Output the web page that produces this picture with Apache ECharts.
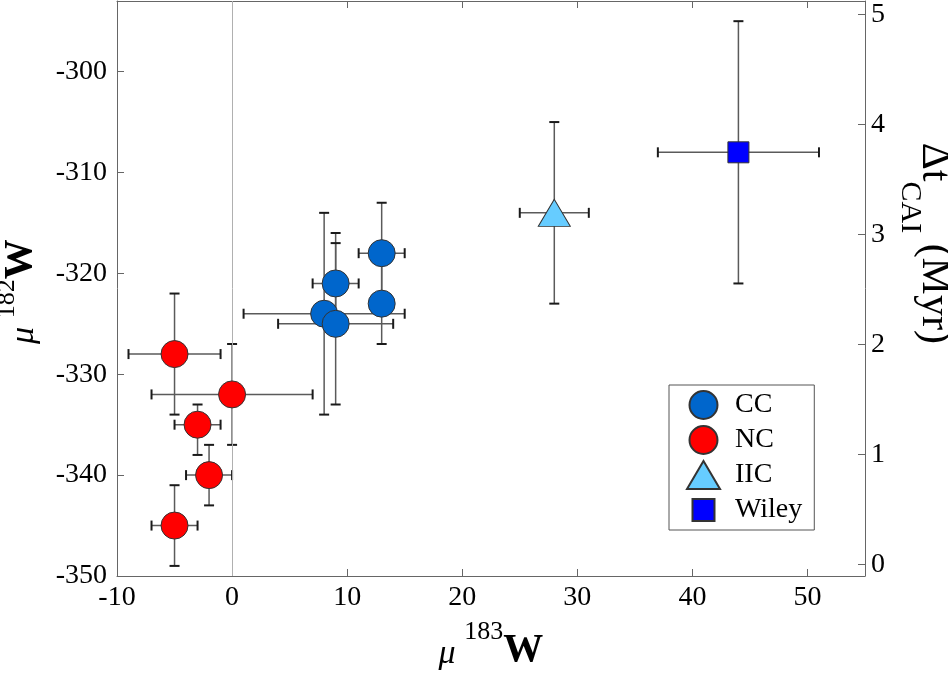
<!DOCTYPE html>
<html><head><meta charset="utf-8">
<script src="https://cdn.jsdelivr.net/npm/echarts@6/dist/echarts.min.js"></script>
<style>html,body{margin:0;padding:0;background:#fff}#c{width:948px;height:673px}</style>
</head><body><div id="c"></div>
<script>
// ---- data ----
// CC group
const ccX    = [8, 9, 9, 13, 13];
const ccY    = [-324, -321, -325, -318, -323];
const ccXLo  = [1, 7, 4, 11, 12];
const ccXHi  = [15, 11, 14, 15, 14];
const ccYLo  = [-334, -326, -333, -323, -327];
const ccYHi  = [-314, -316, -317, -313, -319];
// NC group
const ncX    = [-5, 0, -3, -2, -5];
const ncY    = [-328, -332, -335, -340, -345];
const ncXLo  = [-9, -7, -5, -4, -7];
const ncXHi  = [-1, 7, -1, 0, -3];
const ncYLo  = [-334, -337, -338, -343, -349];
const ncYHi  = [-322, -327, -333, -337, -341];
// IIC
const iicX = [28], iicY = [-314], iicXLo = [25], iicXHi = [31], iicYLo = [-323], iicYHi = [-305];
// Wiley
const wyX = [44], wyY = [-308], wyXLo = [37], wyXHi = [51], wyYLo = [-321], wyYHi = [-295];

const xTicksMin = -10, xTicksMax = 55, xStep = 10;
const yLeftMin = -350, yLeftMax = -293, yLeftStep = 10;
const yRightMin = -0.106, yRightMax = 5.12;
const legendNames = ['CC', 'NC', 'IIC', 'Wiley'];

const FONT = 'Liberation Serif';

function rows(x, y, xlo, xhi, ylo, yhi) {
  return x.map((v, i) => [v, y[i], xlo[i], xhi[i], ylo[i], yhi[i]]);
}
const ccData = rows(ccX, ccY, ccXLo, ccXHi, ccYLo, ccYHi);
const ncData = rows(ncX, ncY, ncXLo, ncXHi, ncYLo, ncYHi);
const iicData = rows(iicX, iicY, iicXLo, iicXHi, iicYLo, iicYHi);
const wyData = rows(wyX, wyY, wyXLo, wyXHi, wyYLo, wyYHi);

function errSeries(id, data) {
  return {
    type: 'custom', id: id, z: 3, silent: true,
    data: data,
    encode: { x: [0, 2, 3], y: [1, 4, 5] },
    renderItem: function (params, api) {
      const x = api.value(0), y = api.value(1);
      const a = api.coord([api.value(2), y]), b = api.coord([api.value(3), y]);
      const c = api.coord([x, api.value(4)]), d = api.coord([x, api.value(5)]);
      const h = 5;
      const ls = { stroke: '#5a5a5a', lineWidth: 1.5 };
      const cs = { stroke: '#1a1a1a', lineWidth: 2 };
      return { type: 'group', children: [
        { type: 'line', shape: { x1: a[0], y1: a[1], x2: b[0], y2: b[1] }, style: ls },
        { type: 'line', shape: { x1: c[0], y1: c[1], x2: d[0], y2: d[1] }, style: ls },
        { type: 'line', shape: { x1: a[0], y1: a[1] - h, x2: a[0], y2: a[1] + h }, style: cs },
        { type: 'line', shape: { x1: b[0], y1: b[1] - h, x2: b[0], y2: b[1] + h }, style: cs },
        { type: 'line', shape: { x1: c[0] - h, y1: c[1], x2: c[0] + h, y2: c[1] }, style: cs },
        { type: 'line', shape: { x1: d[0] - h, y1: d[1], x2: d[0] + h, y2: d[1] }, style: cs }
      ]};
    }
  };
}

function scatter(name, data, symbol, size, color) {
  return {
    type: 'scatter', name: name, z: 5, symbol: symbol, symbolSize: size,
    data: data.map(r => [r[0], r[1]]),
    itemStyle: { color: color, borderColor: '#333', borderWidth: 1, opacity: 1 },
    emphasis: { disabled: true }
  };
}

const axisCol = '#666';
const tickLbl = { fontFamily: FONT, fontSize: 28, color: '#000' };
const squareIcon = 'path://M0,0L0,0M28,28L28,28M3,3L25,3L25,25L3,25Z';

function supRich(L) {
  return {
    mu: { fontFamily: FONT, fontStyle: 'italic', fontSize: 34, lineHeight: 34, verticalAlign: 'bottom', color: '#000' },
    sup: { fontFamily: FONT, fontSize: 26, lineHeight: 26, verticalAlign: 'top', color: '#000' },
    w: { fontFamily: FONT, fontWeight: 'bold', fontSize: 40, lineHeight: 40, verticalAlign: 'bottom', color: '#000' },
    h: { fontSize: 1, lineHeight: L, verticalAlign: 'middle' }
  };
}

const chart = echarts.init(document.getElementById('c'), null, { renderer: 'canvas' });
chart.setOption({
  animation: false,
  backgroundColor: '#fff',
  grid: { left: 117, right: 83, top: 1, bottom: 97, containLabel: false, outerBoundsMode: 'none' },
  xAxis: [{
    type: 'value', position: 'bottom', min: xTicksMin, max: xTicksMax, interval: xStep,
    axisLine: { show: true, onZero: false, lineStyle: { color: axisCol, width: 1 } },
    axisTick: { show: true, inside: true, length: 7, lineStyle: { color: axisCol } },
    axisLabel: Object.assign({ margin: 8, showMaxLabel: false }, tickLbl),
    splitLine: { show: false },
    name: '{mu|μ }{sup|183}{w|W}{h| }', nameLocation: 'middle', nameGap: 43, nameMoveOverlap: false,
    nameTextStyle: { rich: supRich(52) }
  }, {
    type: 'value', position: 'top', min: xTicksMin, max: xTicksMax, interval: xStep,
    axisLine: { show: true, onZero: false, lineStyle: { color: axisCol, width: 1 } },
    axisTick: { show: true, inside: true, length: 7, lineStyle: { color: axisCol } },
    axisLabel: { show: false }, splitLine: { show: false }
  }],
  yAxis: [{
    type: 'value', position: 'left', min: yLeftMin, max: yLeftMax, interval: yLeftStep,
    axisLine: { show: true, onZero: false, lineStyle: { color: axisCol, width: 1 } },
    axisTick: { show: true, inside: true, length: 7, lineStyle: { color: axisCol } },
    axisLabel: Object.assign({ margin: 10, showMaxLabel: false }, tickLbl),
    splitLine: { show: false },
    name: '{mu|μ }{sup|182}{w|W}{h| }', nameLocation: 'middle', nameGap: 76, nameRotate: 90, nameMoveOverlap: false,
    nameTextStyle: { padding: [0, 6, 0, 0], rich: supRich(47) }
  }, {
    type: 'value', position: 'right', min: yRightMin, max: yRightMax, minInterval: 1, maxInterval: 1,
    axisLine: { show: true, onZero: false, lineStyle: { color: axisCol, width: 1 } },
    axisTick: { show: true, inside: true, length: 7, lineStyle: { color: axisCol } },
    axisLabel: Object.assign({ margin: 6, showMinLabel: false, showMaxLabel: false,
      formatter: v => (Math.abs(v - Math.round(v)) < 1e-6 ? String(Math.round(v)) : '') }, tickLbl),
    splitLine: { show: false },
    name: '{d|Δt}{sub|CAI}{m| (Myr)}{h| }', nameLocation: 'middle', nameGap: 30, nameRotate: -90, nameMoveOverlap: false,
    nameTextStyle: {
      padding: [0, 90, 0, 0],
      rich: {
        d: { fontFamily: FONT, fontSize: 42, lineHeight: 42, verticalAlign: 'top', color: '#000' },
        sub: { fontFamily: FONT, fontSize: 30, lineHeight: 30, verticalAlign: 'bottom', color: '#000' },
        m: { fontFamily: FONT, fontSize: 42, lineHeight: 42, verticalAlign: 'top', color: '#000' },
        h: { fontSize: 1, lineHeight: 60, verticalAlign: 'middle' }
      }
    }
  }],
  legend: {
    orient: 'vertical', left: 669, top: 385,
    data: [
      { name: 'CC', icon: 'circle' },
      { name: 'NC', icon: 'circle' },
      { name: 'IIC', icon: 'triangle' },
      { name: 'Wiley', icon: squareIcon }
    ],
    itemWidth: 33, itemHeight: 28, itemGap: 5,
    padding: [5, 12, 5, 17],
    borderColor: '#555', borderWidth: 1, backgroundColor: '#fff',
    textStyle: { fontFamily: FONT, fontSize: 28, color: '#000', padding: [0, 0, 0, 10] },
    selectedMode: false
  },
  series: [
    { type: 'scatter', name: 'zero', data: [], z: 1, silent: true,
      markLine: { silent: true, symbol: 'none', label: { show: false },
        lineStyle: { color: '#b0b0b0', width: 1, type: 'solid' },
        data: [{ xAxis: 0 }] } },
    errSeries('ccErr', ccData),
    errSeries('ncErr', ncData),
    errSeries('iicErr', iicData),
    errSeries('wyErr', wyData),
    scatter('CC', ccData, 'circle', 27, '#0066CC'),
    scatter('NC', ncData, 'circle', 27, '#FF0000'),
    scatter('IIC', iicData, 'triangle', [32, 27], '#66CCFF'),
    scatter('Wiley', wyData, 'rect', 21, '#0000FF')
  ]
});
</script>
</body></html>
